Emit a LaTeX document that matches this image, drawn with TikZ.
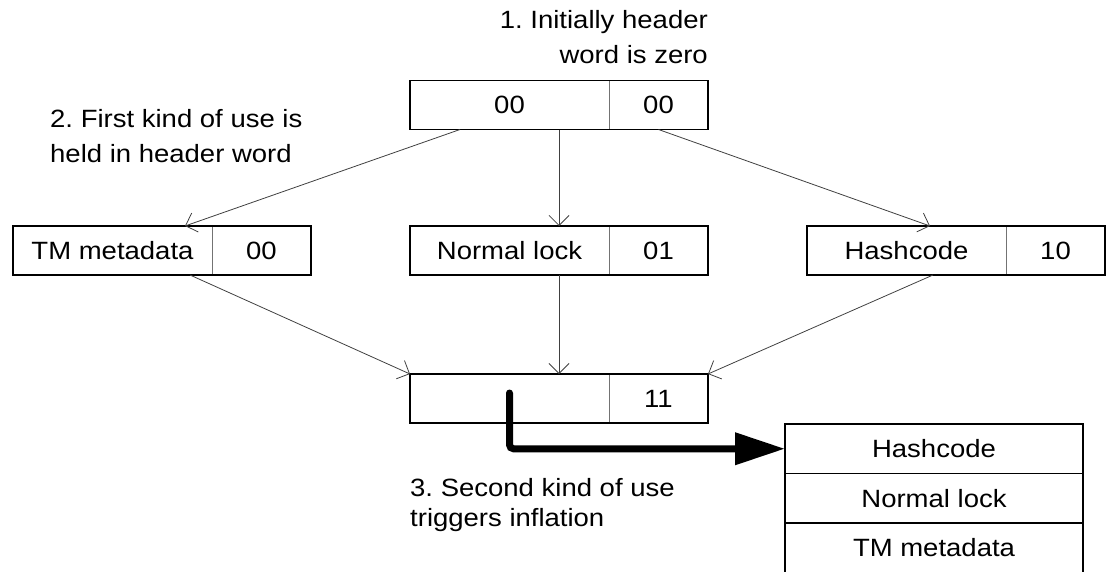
\documentclass[tikz,border=0pt]{standalone}
\usepackage{fontspec}
\setmainfont{Liberation Sans}[FakeStretch=1.1]
\frenchspacing
\usetikzlibrary{arrows.meta,fit,positioning}

\tikzset{
  cell/.style={draw=black!55, line width=0.8pt, minimum height=49pt, inner sep=0pt,
    outer sep=0pt, font=\fontsize{25}{30}\selectfont},
  datacell/.style={cell, minimum width=199pt},
  tagcell/.style={cell, minimum width=99pt},
  word/.style={draw, line width=1.2pt, inner sep=0pt, outer sep=0pt, fit=#1},
  slot/.style={draw, line width=1.2pt, minimum width=298pt, minimum height=49.5pt,
    inner sep=0pt, outer sep=0pt, font=\fontsize{25}{30}\selectfont},
  note/.style={inner sep=0pt, font=\fontsize{25}{35}\selectfont},
  use/.style={draw=black!75, line width=0.8pt, -{Straight Barb[length=10pt,width=20pt]}},
  inflate/.style={line width=7pt, line cap=round, rounded corners=4pt,
    -{Triangle[length=50pt,width=31pt]}}
}

\begin{document}
\begin{tikzpicture}[x=1pt,y=-1pt]
  \useasboundingbox (0,0) rectangle (1108,571);
  \clip (0,0) rectangle (1108,571);

  % header word, initial state
  \node[datacell] (top-a) at (509.5,105) {00};
  \node[tagcell, right=0pt of top-a] (top-b) {00};
  \node[word={(top-a)(top-b)}] (top) {};

  % first kind of use
  \node[datacell] (tm-a) at (112.5,250.5) {TM metadata};
  \node[tagcell, right=0pt of tm-a] (tm-b) {00};
  \node[word={(tm-a)(tm-b)}] (tm) {};

  \node[datacell] (lock-a) at (509.5,250.5) {Normal lock};
  \node[tagcell, right=0pt of lock-a] (lock-b) {01};
  \node[word={(lock-a)(lock-b)}] (lock) {};

  \node[datacell] (hash-a) at (906.5,250.5) {Hashcode};
  \node[tagcell, right=0pt of hash-a] (hash-b) {10};
  \node[word={(hash-a)(hash-b)}] (hash) {};

  % inflated
  \node[datacell] (full-a) at (509.5,398.5) {};
  \node[tagcell, right=0pt of full-a] (full-b) {11};
  \node[word={(full-a)(full-b)}] (full) {};

  % inflated record
  \node[slot] (hrow) at (934,448.75) {Hashcode};
  \node[slot, below=0pt of hrow] (lrow) {Normal lock};
  \node[slot, below=0pt of lrow] (trow) {TM metadata};

  % notes (base = last line)
  \node[note, anchor=base east, align=right] (note1) at (708,63)
    {1. Initially header\\ word is zero};
  \node[note, anchor=base west, align=left] (note2) at (50,162)
    {2. First kind of use is\\ held in header word};
  \node[note, anchor=base west, align=left, font=\fontsize{25}{30}\selectfont] (note3)
    at (410,526) {3. Second kind of use\\ triggers inflation};

  % transitions
  \draw[use] ([xshift=50pt]top-a.south west) -- ([xshift=172pt]tm-a.north west);
  \draw[use] (top.south) -- (lock.north);
  \draw[use] (top-b.south) -- ([xshift=123pt]hash-a.north west);
  \draw[use] ([xshift=177pt]tm-a.south west) -- (full.north west);
  \draw[use] (lock.south) -- (full.north);
  \draw[use] ([xshift=126pt]hash-a.south west) -- (full.north east);

  \draw[inflate] ([yshift=5.5pt]full-a.center) |- (hrow.west);
\end{tikzpicture}
\end{document}
